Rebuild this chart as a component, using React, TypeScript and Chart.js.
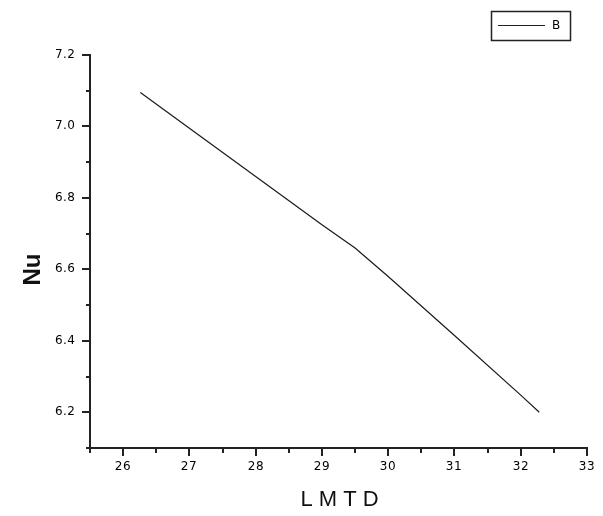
import React, { useEffect, useRef } from "react";
import { Chart, registerables } from "chart.js";

Chart.register(...registerables);

const lmtd = [26.26, 27, 28, 29, 29.5, 30, 31, 32, 32.28];
const nu = [7.095, 6.995, 6.86, 6.725, 6.66, 6.58, 6.415, 6.248, 6.2];
const xMajorTicks = [26, 27, 28, 29, 30, 31, 32, 33];
const xMinorTicks = [25.5, 26.5, 27.5, 28.5, 29.5, 30.5, 31.5, 32.5];
const yMajorTicks = [6.2, 6.4, 6.6, 6.8, 7.0, 7.2];
const yMinorTicks = [6.1, 6.3, 6.5, 6.7, 6.9, 7.1];
const seriesName = "B";

const axesPlugin = {
  id: "originAxes",
  afterDraw(chart: any) {
    const ctx = chart.ctx;
    const xs = chart.scales.x;
    const ys = chart.scales.y;
    const area = chart.chartArea;
    ctx.save();
    ctx.strokeStyle = "#222";
    ctx.fillStyle = "#000";
    ctx.lineWidth = 2;
    ctx.lineCap = "square";
    ctx.beginPath();
    ctx.moveTo(area.left, area.top);
    ctx.lineTo(area.left, area.bottom);
    ctx.lineTo(area.right, area.bottom);
    ctx.stroke();
    ctx.lineCap = "butt";
    ctx.font = "12px 'DejaVu Sans', 'Liberation Sans', sans-serif";
    (ctx as any).letterSpacing = "0.5px";
    ctx.textAlign = "right";
    ctx.textBaseline = "middle";
    yMajorTicks.forEach((v) => {
      const p = Math.round(ys.getPixelForValue(v));
      ctx.beginPath();
      ctx.moveTo(area.left - 8, p);
      ctx.lineTo(area.left, p);
      ctx.stroke();
      ctx.fillText(v.toFixed(1), area.left - 14.5, p);
    });
    yMinorTicks.forEach((v) => {
      const p = Math.round(ys.getPixelForValue(v));
      ctx.beginPath();
      ctx.moveTo(area.left - 4, p);
      ctx.lineTo(area.left, p);
      ctx.stroke();
    });
    ctx.textAlign = "center";
    ctx.textBaseline = "middle";
    xMajorTicks.forEach((v) => {
      const p = Math.round(xs.getPixelForValue(v));
      ctx.beginPath();
      ctx.moveTo(p, area.bottom);
      ctx.lineTo(p, area.bottom + 8);
      ctx.stroke();
      ctx.fillText(String(v), p, area.bottom + 19);
    });
    xMinorTicks.forEach((v) => {
      const p = Math.round(xs.getPixelForValue(v));
      ctx.beginPath();
      ctx.moveTo(p, area.bottom);
      ctx.lineTo(p, area.bottom + 5);
      ctx.stroke();
    });
    (ctx as any).letterSpacing = "0px";
    ctx.fillStyle = "#111";
    ctx.save();
    ctx.translate(33, (area.top + area.bottom) / 2 + 18);
    ctx.rotate(-Math.PI / 2);
    ctx.font = "bold 24px 'Liberation Sans', Arial, sans-serif";
    ctx.textAlign = "center";
    ctx.textBaseline = "middle";
    ctx.fillText("Nu", 0, 0);
    ctx.restore();
    ctx.font = "22px 'Liberation Sans', Arial, sans-serif";
    ctx.textAlign = "center";
    ctx.textBaseline = "middle";
    ctx.fillText("L M T D", (area.left + area.right) / 2 + 1, 500);
    ctx.strokeStyle = "#222";
    ctx.lineWidth = 1.5;
    ctx.strokeRect(491.5, 11.5, 79, 29);
    ctx.lineWidth = 1.2;
    ctx.beginPath();
    ctx.moveTo(498, 25.5);
    ctx.lineTo(545, 25.5);
    ctx.stroke();
    ctx.fillStyle = "#000";
    ctx.font = "12px 'DejaVu Sans', 'Liberation Sans', sans-serif";
    ctx.textAlign = "left";
    ctx.textBaseline = "middle";
    ctx.fillText(seriesName, 552, 26);
    ctx.restore();
  },
};

export default function App() {
  const ref = useRef<HTMLCanvasElement>(null);
  useEffect(() => {
    document.body.style.margin = "0";
    const canvas = ref.current!;
    const chart = new Chart(canvas, {
      type: "line",
      data: {
        datasets: [
          {
            label: seriesName,
            data: lmtd.map((x, i) => ({ x, y: nu[i] })),
            borderColor: "#1a1a1a",
            borderWidth: 1.2,
            pointRadius: 0,
            tension: 0,
            fill: false,
          },
        ],
      },
      options: {
        animation: false,
        responsive: false,
        maintainAspectRatio: false,
        layout: { padding: { left: 90, top: 55, right: 16, bottom: 68 } },
        plugins: { legend: { display: false }, tooltip: { enabled: false } },
        scales: {
          x: { type: "linear", min: 25.5, max: 33, display: false },
          y: { type: "linear", min: 6.1, max: 7.2, display: false },
        },
      },
      plugins: [axesPlugin],
    });
    return () => chart.destroy();
  }, []);
  return <canvas ref={ref} width={603} height={516} style={{ display: "block" }} />;
}
